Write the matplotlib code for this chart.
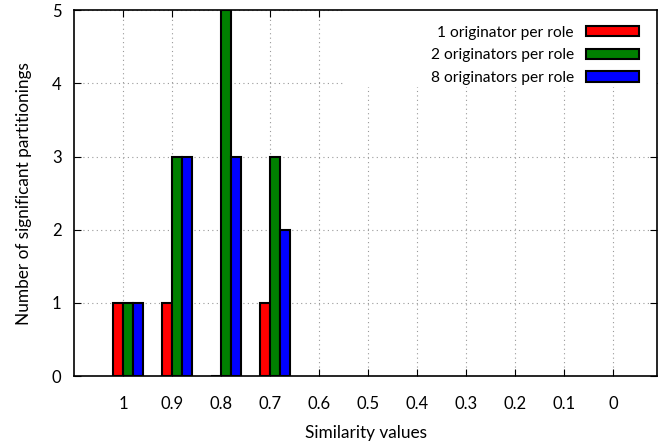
import matplotlib.pyplot as plt
from matplotlib.patches import Patch, Rectangle
import numpy as np

plt.rcParams['font.family'] = ['Lato', 'DejaVu Sans']

# Data
similaridades = ['1', '0.9', '0.8', '0.7', '0.6', '0.5', '0.4', '0.3', '0.2', '0.1', '0']
uno_por_rol = [1, 1, 0, 1]
dos_por_rol = [1, 3, 5, 3]
ocho_por_rol = [1, 3, 3, 2]
series = ['1 originator per role', '2 originators per role', '8 originators per role']
colores = ['#ff0000', '#008000', '#0000ff']

fig = plt.figure(figsize=(6.67, 4.43), dpi=100)
ax = fig.add_axes([0.111, 0.151, 0.874, 0.826])

x = np.arange(len(similaridades))
ancho = 0.2
desp = [-0.1, 0.1, 0.3]
for i, vals in enumerate([uno_por_rol, dos_por_rol, ocho_por_rol]):
    xs = x[:len(vals)] + desp[i]
    ax.bar(xs, vals, width=ancho, color=colores[i],
           edgecolor='black', linewidth=1.5, zorder=3)

ax.set_xlim(-1, 10.9)
ax.set_ylim(0, 5)
ax.set_xticks(x)
ax.set_xticklabels(similaridades)
ax.set_yticks(range(6))
ax.tick_params(direction='in', top=True, right=True, length=5, labelsize=12)
ax.tick_params(axis='x', pad=14)
ax.tick_params(axis='y', pad=9)
ax.grid(True, linestyle=(0, (1, 3)), color='#999999', linewidth=0.8, zorder=0)
ax.set_axisbelow(True)
for s in ax.spines.values():
    s.set_linewidth(1.2)

# caja blanca de la leyenda (tapa la rejilla como en gnuplot)
ax.add_patch(Rectangle((0.465, 0.79), 0.535, 0.21, transform=ax.transAxes,
                       facecolor='white', edgecolor='none', zorder=1))

ax.set_xlabel('Similarity values', fontsize=12.4, labelpad=10)
ax.set_ylabel('Number of significant partitionings', fontsize=12.4, labelpad=14)

handles = [Patch(facecolor=c, edgecolor='black', linewidth=1.5) for c in colores]
leg = ax.legend(handles, series, loc='upper right', markerfirst=False,
                bbox_to_anchor=(0.995, 1.0),
                fontsize=11.2, frameon=False, handlelength=3.4, handleheight=0.65,
                handletextpad=0.75, labelspacing=0.55, borderaxespad=0.6)
leg.set_zorder(5)

plt.savefig('out.png', dpi=100)
